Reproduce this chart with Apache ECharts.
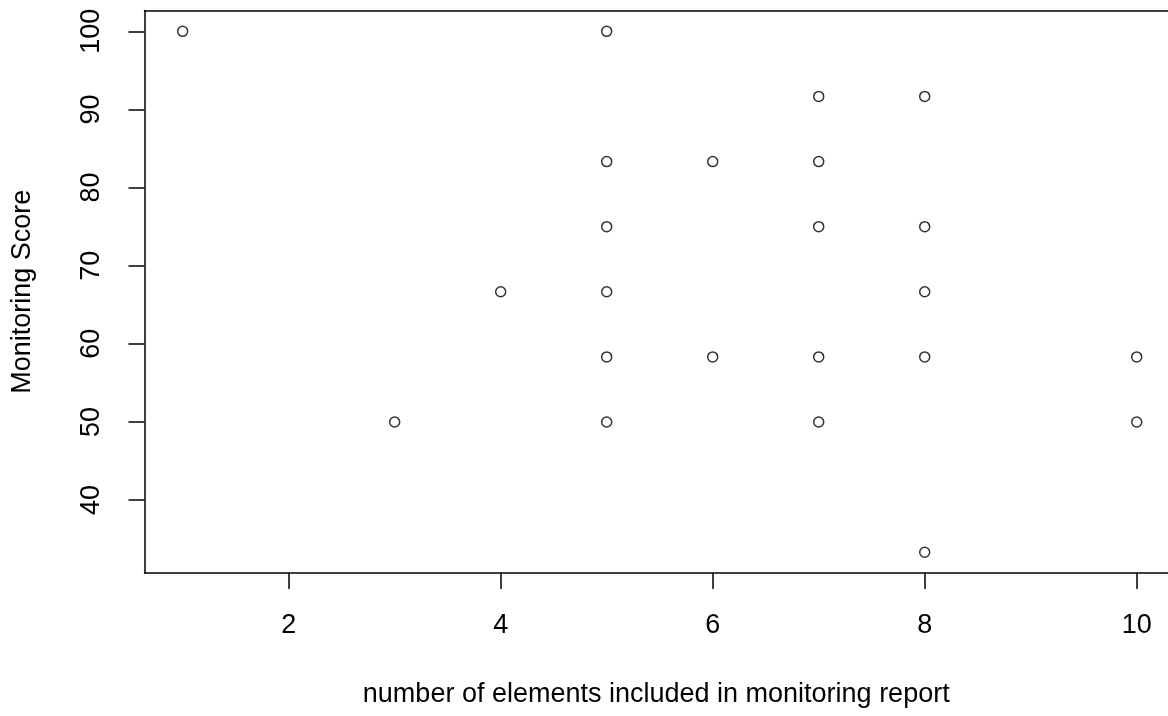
<!DOCTYPE html>
<html>
<head>
<meta charset="utf-8">
<title>Monitoring Score</title>
<script src="https://cdn.jsdelivr.net/npm/echarts@6/dist/echarts.min.js"></script>
<style>
html, body { margin: 0; padding: 0; background: #fff; }
#main { width: 1168px; height: 716px; }
</style>
</head>
<body>
<div id="main"></div>
<script>
// data
var elements = [1, 3, 4, 5, 5, 5, 5, 5, 5, 6, 6, 7, 7, 7, 7, 7, 8, 8, 8, 8, 8, 10, 10];
var scores = [100, 50, 66.67, 100, 83.33, 75, 66.67, 58.33, 50, 83.33, 58.33,
              91.67, 83.33, 75, 58.33, 50, 91.67, 75, 66.67, 58.33, 33.33, 58.33, 50];
var xTicks = [2, 4, 6, 8, 10];
var yTicks = [40, 50, 60, 70, 80, 90, 100];

var points = [];
for (var i = 0; i < elements.length; i++) {
    points.push([elements[i], scores[i]]);
}

var font = 'Liberation Sans, Arial, sans-serif';
// plot box runs past the right edge of the picture, so cut the x range there
var xMin = 0.64, xMax = 10.295;

var myChart = echarts.init(document.getElementById('main'));

option = {
    animation: false,
    backgroundColor: '#fff',
    grid: {
        show: false,
        left: 144.5,
        top: 10.5,
        right: 0,
        bottom: 143
    },
    xAxis: [
        {
            type: 'value',
            min: xMin,
            max: xMax,
            name: 'number of elements included in monitoring report',
            nameLocation: 'middle',
            nameGap: 108,
            nameTextStyle: { color: '#000', fontSize: 27, fontFamily: font },
            axisLine: { show: true, lineStyle: { color: '#000', width: 1.5 } },
            axisTick: {
                show: true,
                inside: false,
                length: 16,
                customValues: xTicks,
                lineStyle: { color: '#000', width: 1.5 }
            },
            axisLabel: {
                customValues: xTicks,
                margin: 39,
                color: '#000',
                fontSize: 27,
                lineHeight: 28,
                fontFamily: font
            },
            splitLine: { show: false }
        },
        {
            // top edge of the box
            type: 'value',
            position: 'top',
            min: xMin,
            max: xMax,
            axisLine: { show: true, lineStyle: { color: '#000', width: 1.5 } },
            axisTick: { show: false },
            axisLabel: { show: false },
            splitLine: { show: false }
        }
    ],
    yAxis: {
        type: 'value',
        min: 30.667,
        max: 102.667,
        name: 'Monitoring Score',
        nameLocation: 'middle',
        nameGap: 108,
        nameRotate: 90,
        nameTextStyle: { color: '#000', fontSize: 27, fontFamily: font },
        axisLine: { show: true, lineStyle: { color: '#000', width: 1.5 } },
        axisTick: {
            show: true,
            inside: false,
            length: 16,
            customValues: yTicks,
            lineStyle: { color: '#000', width: 1.5 }
        },
        axisLabel: {
            customValues: yTicks,
            rotate: 90,
            margin: 39,
            color: '#000',
            fontSize: 27,
            lineHeight: 28,
            fontFamily: font
        },
        splitLine: { show: false }
    },
    series: [
        {
            type: 'scatter',
            data: points,
            symbol: 'circle',
            symbolSize: 10,
            itemStyle: {
                color: 'rgba(0,0,0,0)',
                borderColor: '#000',
                borderWidth: 1.5
            }
        }
    ]
};

myChart.setOption(option);
</script>
</body>
</html>
